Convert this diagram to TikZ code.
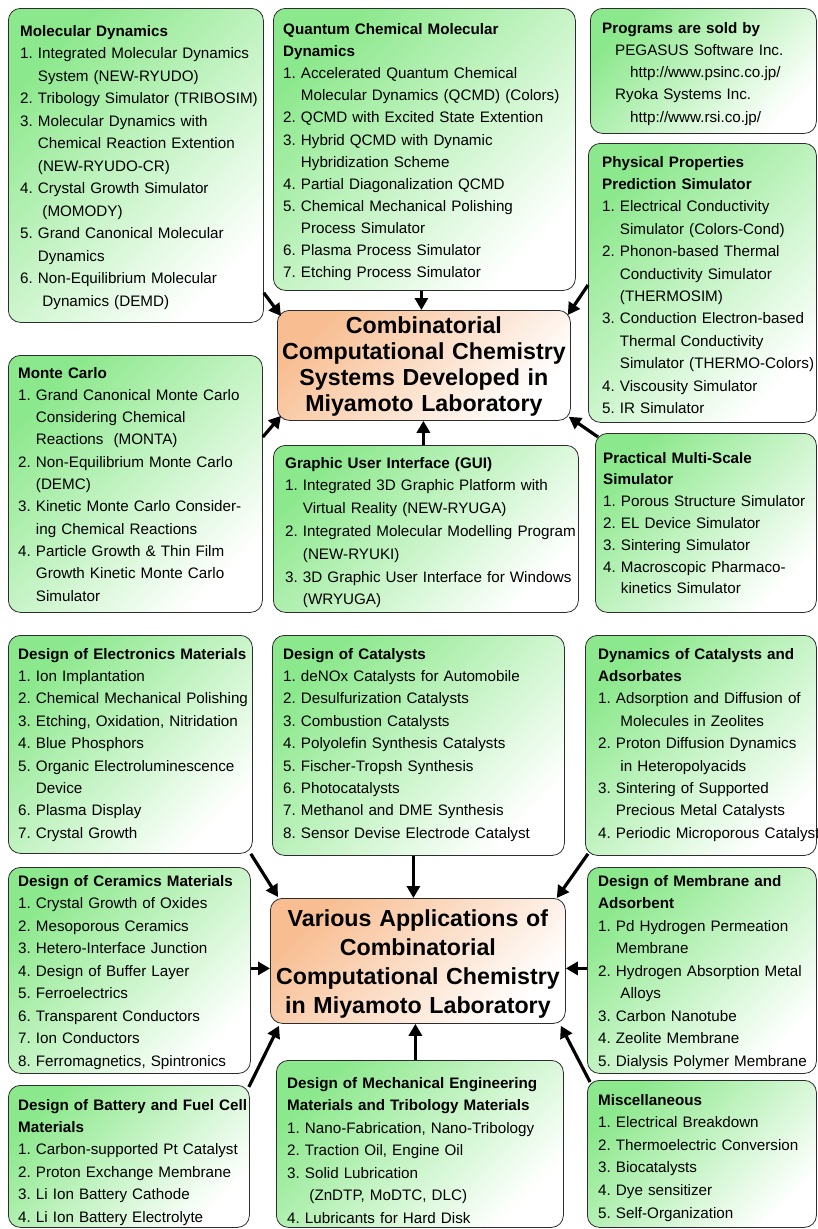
\documentclass[tikz,border=0pt]{standalone}
\usepackage{fontspec}
\setmainfont{Liberation Sans}
\usetikzlibrary{calc,arrows.meta}
\frenchspacing

\definecolor{boxgreen}{RGB}{140,232,140}
\definecolor{boxorange}{RGB}{248,190,146}
\definecolor{boxline}{RGB}{45,45,45}

% sangrias de las lineas que continuan
\newcommand{\cind}{\hphantom{1. }}
\newcommand{\cindx}{\hphantom{1. }\hspace*{4.5pt}}

\begin{document}
\begin{tikzpicture}[x=1pt, y=-1pt,
    gbox/.style={draw=boxline, line width=0.8pt, rounded corners=12pt, anchor=north west,
                 inner sep=0pt, top color=boxgreen, bottom color=white, shading angle=45},
    obox/.style={gbox, top color=boxorange, bottom color=white, shading angle=45},
    txt/.style={anchor=base west, align=left, inner sep=0pt, text width=300pt,
                font=\fontsize{15.2}{22.5}\selectfont},
    ttl/.style={anchor=base, align=center, inner sep=0pt, text width=300pt,
                font=\fontsize{23.2}{26.3}\selectfont\bfseries},
    arr/.style={line width=3.2pt, arrows={-Triangle[length=12pt, width=13pt]}}]

    \path[use as bounding box, fill=white] (0,0) rectangle (818,1229);

    % --- Sistemas (mitad superior) ---
    \node[gbox, minimum width=255pt, minimum height=314pt] (md) at (8,8) {};
    \node[txt] (mdtxt) at ($(md.north west)+(12,28)$) {\textbf{Molecular Dynamics}\\
        1. Integrated Molecular Dynamics\\
        \cind System (NEW-RYUDO)\\
        2. Tribology Simulator (TRIBOSIM)\\
        3. Molecular Dynamics with\\
        \cind Chemical Reaction Extention\\
        \cind (NEW-RYUDO-CR)\\
        4. Crystal Growth Simulator\\
        \cindx (MOMODY)\\
        5. Grand Canonical Molecular\\
        \cind Dynamics\\
        6. Non-Equilibrium Molecular\\
        \cindx Dynamics (DEMD)};

    \node[gbox, minimum width=302pt, minimum height=282pt] (qcmd) at (273,8) {};
    \node[txt, font=\fontsize{15.2}{22.1}\selectfont] (qcmdtxt) at ($(qcmd.north west)+(10,26.5)$) {\textbf{Quantum Chemical Molecular}\\
        \textbf{Dynamics}\\
        1. Accelerated Quantum Chemical\\
        \cind Molecular Dynamics (QCMD) (Colors)\\
        2. QCMD with Excited State Extention\\
        3. Hybrid QCMD with Dynamic\\
        \cind Hybridization Scheme\\
        4. Partial Diagonalization QCMD\\
        5. Chemical Mechanical Polishing\\
        \cind Process Simulator\\
        6. Plasma Process Simulator\\
        7. Etching Process Simulator};

    \node[gbox, minimum width=226pt, minimum height=125pt] (prog) at (590,8) {};
    \node[txt, font=\fontsize{15.2}{22.3}\selectfont] (progtxt) at ($(prog.north west)+(12,25)$) {\textbf{Programs are sold by}\\
        \hspace*{13pt}PEGASUS Software Inc.\\
        \hspace*{28pt}http://www.psinc.co.jp/\\
        \hspace*{13pt}Ryoka Systems Inc.\\
        \hspace*{28pt}http://www.rsi.co.jp/};

    \node[gbox, minimum width=228pt, minimum height=279pt] (phys) at (588,143) {};
    \node[txt, font=\fontsize{15.2}{22.4}\selectfont] (phystxt) at ($(phys.north west)+(14,24)$) {\textbf{Physical Properties}\\
        \textbf{Prediction Simulator}\\
        1. Electrical Conductivity\\
        \cind Simulator (Colors-Cond)\\
        2. Phonon-based Thermal\\
        \cind Conductivity Simulator\\
        \cind (THERMOSIM)\\
        3. Conduction Electron-based\\
        \cind Thermal Conductivity\\
        \cind Simulator (THERMO-Colors)\\
        4. Viscousity Simulator\\
        5. IR Simulator};

    \node[obox, minimum width=293pt, minimum height=110pt] (sys) at (277,310) {};
    \node[ttl] (systxt) at ($(sys.north)+(0,23)$) {Combinatorial\\
        Computational Chemistry\\
        Systems Developed in\\
        Miyamoto Laboratory};

    \node[gbox, minimum width=254pt, minimum height=257pt] (mc) at (8,355) {};
    \node[txt, font=\fontsize{15.2}{22.3}\selectfont] (mctxt) at ($(mc.north west)+(10,23)$) {\textbf{Monte Carlo}\\
        1. Grand Canonical Monte Carlo\\
        \cind Considering Chemical\\
        \cind Reactions\ \ (MONTA)\\
        2. Non-Equilibrium Monte Carlo\\
        \cind (DEMC)\\
        3. Kinetic Monte Carlo Consider-\\
        \cind ing Chemical Reactions\\
        4. Particle Growth \& Thin Film\\
        \cind Growth Kinetic Monte Carlo\\
        \cind Simulator};

    \node[gbox, minimum width=305pt, minimum height=167pt] (gui) at (273,445) {};
    \node[txt, font=\fontsize{15.2}{22.8}\selectfont] (guitxt) at ($(gui.north west)+(12,23)$) {\textbf{Graphic User Interface (GUI)}\\
        1. Integrated 3D Graphic Platform with\\
        \cind Virtual Reality (NEW-RYUGA)\\
        2. Integrated Molecular Modelling Program\\
        \cind (NEW-RYUKI)\\
        3. 3D Graphic User Interface for Windows\\
        \cind (WRYUGA)};

    \node[gbox, minimum width=221pt, minimum height=179pt] (prac) at (595,433) {};
    \node[txt, font=\fontsize{15.2}{21.8}\selectfont] (practxt) at ($(prac.north west)+(8,30)$) {\textbf{Practical Multi-Scale}\\
        \textbf{Simulator}\\
        1. Porous Structure Simulator\\
        2. EL Device Simulator\\
        3. Sintering Simulator\\
        4. Macroscopic Pharmaco-\\
        \cind kinetics Simulator};

    % --- Aplicaciones (mitad inferior) ---
    \node[gbox, minimum width=244pt, minimum height=218pt] (elec) at (8,635) {};
    \node[txt, font=\fontsize{15.2}{22.4}\selectfont] (electxt) at ($(elec.north west)+(10,24)$) {\textbf{Design of Electronics Materials}\\
        1. Ion Implantation\\
        2. Chemical Mechanical Polishing\\
        3. Etching, Oxidation, Nitridation\\
        4. Blue Phosphors\\
        5. Organic Electroluminescence\\
        \cind Device\\
        6. Plasma Display\\
        7. Crystal Growth};

    \node[gbox, minimum width=292pt, minimum height=220pt] (cat) at (272,635) {};
    \node[txt, font=\fontsize{15.2}{22.4}\selectfont] (cattxt) at ($(cat.north west)+(11,24)$) {\textbf{Design of Catalysts}\\
        1. deNOx Catalysts for Automobile\\
        2. Desulfurization Catalysts\\
        3. Combustion Catalysts\\
        4. Polyolefin Synthesis Catalysts\\
        5. Fischer-Tropsh Synthesis\\
        6. Photocatalysts\\
        7. Methanol and DME Synthesis\\
        8. Sensor Devise Electrode Catalyst};

    \node[gbox, minimum width=231pt, minimum height=220pt] (dyn) at (585,635) {};
    \node[txt, font=\fontsize{15.2}{22.4}\selectfont] (dyntxt) at ($(dyn.north west)+(13,24)$) {\textbf{Dynamics of Catalysts and}\\
        \textbf{Adsorbates}\\
        1. Adsorption and Diffusion of\\
        \cindx Molecules in Zeolites\\
        2. Proton Diffusion Dynamics\\
        \cindx in Heteropolyacids\\
        3. Sintering of Supported\\
        \cind Precious Metal Catalysts\\
        4. Periodic Microporous Catalyst};

    \node[gbox, minimum width=242pt, minimum height=206pt] (cer) at (8,867) {};
    \node[txt, font=\fontsize{15.2}{22.5}\selectfont] (certxt) at ($(cer.north west)+(10,19)$) {\textbf{Design of Ceramics Materials}\\
        1. Crystal Growth of Oxides\\
        2. Mesoporous Ceramics\\
        3. Hetero-Interface Junction\\
        4. Design of Buffer Layer\\
        5. Ferroelectrics\\
        6. Transparent Conductors\\
        7. Ion Conductors\\
        8. Ferromagnetics, Spintronics};

    \node[gbox, minimum width=229pt, minimum height=206pt] (memb) at (587,867) {};
    \node[txt, font=\fontsize{15.2}{22.5}\selectfont] (membtxt) at ($(memb.north west)+(11,19)$) {\textbf{Design of Membrane and}\\
        \textbf{Adsorbent}\\
        1. Pd Hydrogen Permeation\\
        \cind Membrane\\
        2. Hydrogen Absorption Metal\\
        \cindx Alloys\\
        3. Carbon Nanotube\\
        4. Zeolite Membrane\\
        5. Dialysis Polymer Membrane};

    \node[obox, minimum width=295pt, minimum height=125pt] (app) at (270,898) {};
    \node[ttl, font=\fontsize{23.2}{28.8}\selectfont\bfseries] (apptxt) at ($(app.north)+(0,28.7)$) {Various Applications of\\
        Combinatorial\\
        Computational Chemistry\\
        in Miyamoto Laboratory};

    \node[gbox, minimum width=241pt, minimum height=142pt] (batt) at (8,1085) {};
    \node[txt, font=\fontsize{15.2}{22.4}\selectfont] (batttxt) at ($(batt.north west)+(10,25)$) {\textbf{Design of Battery and Fuel Cell}\\
        \textbf{Materials}\\
        1. Carbon-supported Pt Catalyst\\
        2. Proton Exchange Membrane\\
        3. Li Ion Battery Cathode\\
        4. Li Ion Battery Electrolyte};

    \node[gbox, minimum width=287pt, minimum height=167pt] (mech) at (276,1060) {};
    \node[txt, font=\fontsize{15.2}{22.5}\selectfont] (mechtxt) at ($(mech.north west)+(11,28)$) {\textbf{Design of Mechanical Engineering}\\
        \textbf{Materials and Tribology Materials}\\
        1. Nano-Fabrication, Nano-Tribology\\
        2. Traction Oil, Engine Oil\\
        3. Solid Lubrication\\
        \cindx (ZnDTP, MoDTC, DLC)\\
        4. Lubricants for Hard Disk};

    \node[gbox, minimum width=229pt, minimum height=147pt] (misc) at (587,1080) {};
    \node[txt, font=\fontsize{15.2}{22.6}\selectfont] (misctxt) at ($(misc.north west)+(11,25)$) {\textbf{Miscellaneous}\\
        1. Electrical Breakdown\\
        2. Thermoelectric Conversion\\
        3. Biocatalysts\\
        4. Dye sensitizer\\
        5. Self-Organization};

    % --- Flechas hacia el cuadro central superior ---
    \draw[arr] ($(md.south east)+(0,-30)$) -- ($(sys.north west)+(4,6)$);
    \draw[arr] ($(qcmd.south)+(-3,0)$) -- ($(sys.north)+(-2.5,0)$);
    \draw[arr] ($(phys.north west)+(0,142)$) -- ($(sys.north east)+(-3,5)$);
    \draw[arr] ($(mc.north east)+(0,82)$) -- ($(sys.south west)+(4,-5)$);
    \draw[arr] ($(gui.north)+(-2.5,0)$) -- ($(sys.south)+(-0.5,0)$);
    \draw[arr] ($(prac.north west)+(3,4)$) -- ($(sys.south east)+(-2,-4)$);

    % --- Flechas hacia el cuadro central inferior ---
    \draw[arr] ($(elec.south east)+(-2,0)$) -- ($(app.north west)+(8,-1)$);
    \draw[arr] ($(cat.south)+(-5,0)$) -- ($(app.north)+(-4.5,0)$);
    \draw[arr] ($(dyn.south west)+(3,-2)$) -- ($(app.north east)+(-9,0)$);
    \draw[arr] ($(cer.east)+(0,-2)$) -- ($(app.west)+(0,7.5)$);
    \draw[arr] ($(memb.west)+(0,-2)$) -- ($(app.east)+(0,7.5)$);
    \draw[arr] ($(batt.north east)+(-1,2)$) -- ($(app.south west)+(9,2)$);
    \draw[arr] ($(mech.north)+(-4.5,0)$) -- ($(app.south)+(-2.5,0)$);
    \draw[arr] ($(misc.north west)+(3,2)$) -- ($(app.south east)+(-5,2)$);

\end{tikzpicture}
\end{document}
